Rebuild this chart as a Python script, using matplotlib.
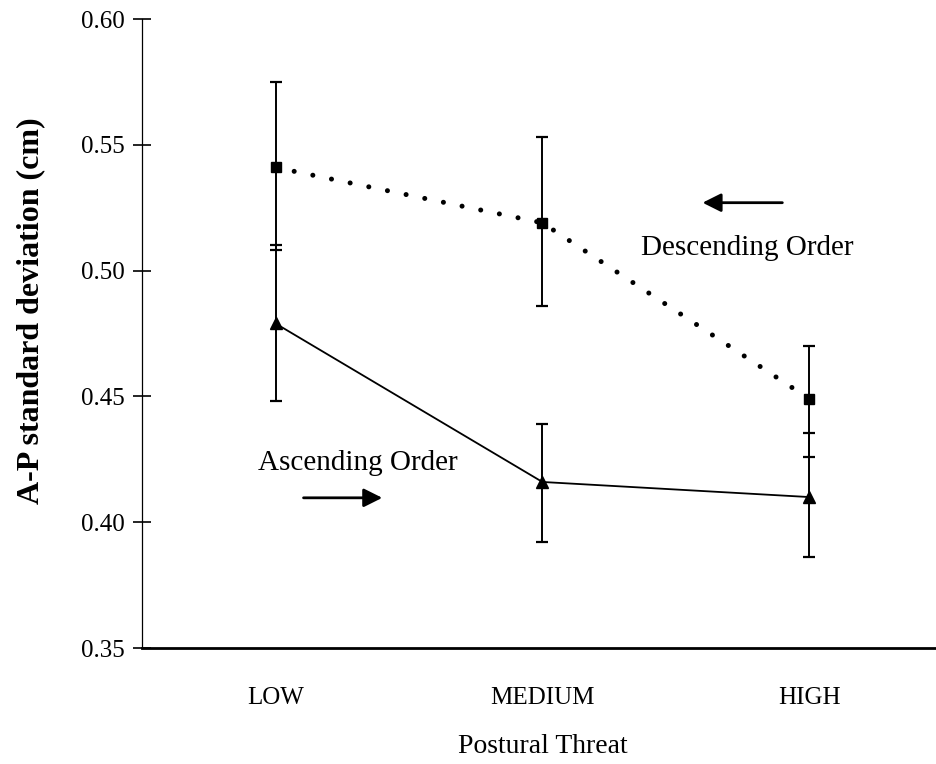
import numpy as np
import matplotlib
matplotlib.use("Agg")
import matplotlib.pyplot as plt

# ── data ──────────────────────────────────────────────────────
categories = ["LOW", "MEDIUM", "HIGH"]

desc_mean  = [0.541, 0.519, 0.449]
desc_upper = [0.575, 0.553, 0.470]
desc_lower = [0.508, 0.486, 0.426]

asc_mean  = [0.479, 0.416, 0.410]
asc_upper = [0.510, 0.439, 0.4355]
asc_lower = [0.448, 0.392, 0.386]

plt.rcParams["font.family"] = ["Liberation Serif", "DejaVu Serif"]

x = np.arange(len(categories))

fig = plt.figure(figsize=(9.37, 7.64), dpi=100)
ax = fig.add_axes([0.1516, 0.1518, 0.846, 0.8233])

def errs(mean, lo, hi):
    mean = np.asarray(mean); lo = np.asarray(lo); hi = np.asarray(hi)
    return np.vstack([mean - lo, hi - mean])

# error bars first, then lines + markers on top
ebkw = dict(fmt="none", ecolor="black", elinewidth=1.4, capsize=4.6, capthick=1.6)
ax.errorbar(x, desc_mean, yerr=errs(desc_mean, desc_lower, desc_upper), **ebkw)
ax.errorbar(x, asc_mean, yerr=errs(asc_mean, asc_lower, asc_upper), **ebkw)

# descending: dotted line, squares
ax.plot(x, desc_mean, color="black", lw=3.6, linestyle=(0, (0.01, 3.8)),
        dash_capstyle="round")
ax.plot(x, desc_mean, "s", color="black", ms=7.5, ls="none")

# ascending: solid line, triangles
ax.plot(x, asc_mean, color="black", lw=1.3)
ax.plot(x, asc_mean, "^", color="black", ms=8.5, ls="none")

ax.set_xlim(-0.5, 2.47)
ax.set_ylim(0.35, 0.60)
ax.set_xticks(x)
ax.set_xticklabels(categories, fontsize=18)
ax.set_yticks([0.35, 0.40, 0.45, 0.50, 0.55, 0.60])
ax.set_yticklabels(["0.35", "0.40", "0.45", "0.50", "0.55", "0.60"], fontsize=18)

ax.tick_params(axis="x", length=0, pad=28)
ax.tick_params(axis="y", direction="inout", length=13, width=1.2, pad=6)

for side in ("top", "right"):
    ax.spines[side].set_visible(False)
ax.spines["left"].set_linewidth(0.9)
ax.spines["bottom"].set_linewidth(2.0)

ax.set_xlabel("Postural Threat", fontsize=20)
ax.xaxis.set_label_coords(0.506, -0.157)
ax.xaxis.label.set_va("center")

ax.set_ylabel("A-P standard deviation (cm)", fontsize=23, fontweight="bold")
ax.yaxis.set_label_coords(-0.141, 0.537)
ax.yaxis.label.set_va("center")

# annotations
arrow_kw = dict(arrowstyle="-|>", lw=2, color="black",
                mutation_scale=28, shrinkA=0, shrinkB=0)
ax.text(0.307, 0.4236, "Ascending Order", fontsize=21, ha="center", va="center")
ax.annotate("", xy=(0.40, 0.4097), xytext=(0.105, 0.4097), arrowprops=arrow_kw)
ax.text(1.768, 0.509, "Descending Order", fontsize=21, ha="center", va="center")
ax.annotate("", xy=(1.60, 0.527), xytext=(1.899, 0.527), arrowprops=arrow_kw)

fig.savefig("out.png", dpi=100)
